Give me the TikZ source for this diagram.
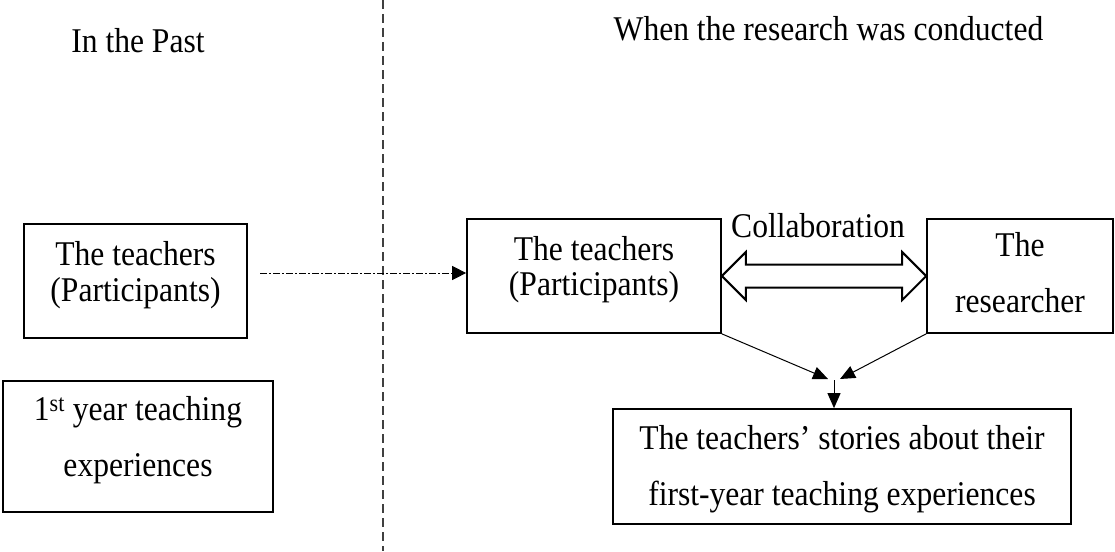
\documentclass[tikz,border=0pt]{standalone}
\usepackage{fontspec}
\setmainfont{Liberation Serif}[FakeStretch=0.91]
\usetikzlibrary{arrows.meta,calc}

% struts that pad the first line upwards or the last line downwards
\newcommand\lowpad[1]{\rule[-#1]{0pt}{0pt}}
\newcommand\highpad[1]{\rule{0pt}{#1}}

\begin{document}
\begin{tikzpicture}[x=1pt,y=-1pt,
  every node/.style={inner sep=0pt, font=\fontsize{34.7}{35.5}\selectfont},
  box/.style={draw, line width=1.7pt, align=center},
  loose/.style={font=\fontsize{34.7}{55.5}\selectfont},
  divider/.style={draw=black!75, line width=1.3pt, dash pattern=on 9pt off 5pt},
  flowdd/.style={line width=1pt, dash pattern=on 6.5pt off 2.5pt on 1.5pt off 2.5pt,
    -{Triangle[length=14pt,width=14pt]}},
  flow/.style={line width=1pt, -{Triangle[length=15pt,width=13pt]}},
  bigarrow/.style={draw, line width=2pt, fill=white, line join=miter},
]
\useasboundingbox (0,0) rectangle (1115,551);

% column headings
\node[anchor=base] (pasthead) at (138,52.7) {In the Past};
\node[anchor=base] (nowhead) at (828.5,40.4) {When the research was conducted};

% time divider
\coordinate (divtop) at (383,0);
\coordinate (divbot) at (383,551);
\draw[divider] (divtop) -- (divbot);

% past column
\node[box, minimum width=223pt, minimum height=114pt] (pastteach) at (135.5,281)
  {The teachers\\(Participants)\lowpad{19.5pt}};
\node[box, loose, minimum width=270pt, minimum height=131pt] (firstyear) at (138,446.5)
  {1\textsuperscript{st} year teaching\\experiences\lowpad{20pt}};

% research column
\node[box, minimum width=254pt, minimum height=114pt] (nowteach) at (594,276)
  {The teachers\\(Participants)\lowpad{20pt}};
\node[box, loose, minimum width=186pt, minimum height=114pt] (researcher) at (1020,276)
  {The\\researcher\lowpad{7pt}};
\node[box, loose, minimum width=458pt, minimum height=115pt] (stories) at (842,466.5)
  {\highpad{29.6pt}The teachers’ stories about their\\first-year teaching experiences};

\node[anchor=base] (collab) at (818,237) {Collaboration};

% the same teachers, then and now
\coordinate (pastout) at (260,273);
\draw[flowdd] (pastout) -- (pastout -| nowteach.west);

% collaboration double arrow
\draw[bigarrow] (nowteach.east) -- ++(24,-24) -- ++(0,12.5)
  -- ($(nowteach.east -| researcher.west)+(-24,-11.5)$) -- ++(0,-12.5)
  -- (nowteach.east -| researcher.west) -- ++(-24,24) -- ++(0,-12.5)
  -- ($(nowteach.east)+(24,11.5)$) -- ++(0,12.5) -- cycle;

% both parties feed the stories
\coordinate (tipL) at (828,379);
\coordinate (tipR) at (840,379);
\coordinate (meet) at (834,380);
\draw[flow] (nowteach.south east) -- (tipL);
\draw[flow] (researcher.south west) -- (tipR);
\draw[flow] (meet) -- (meet |- stories.north);
\end{tikzpicture}
\end{document}
